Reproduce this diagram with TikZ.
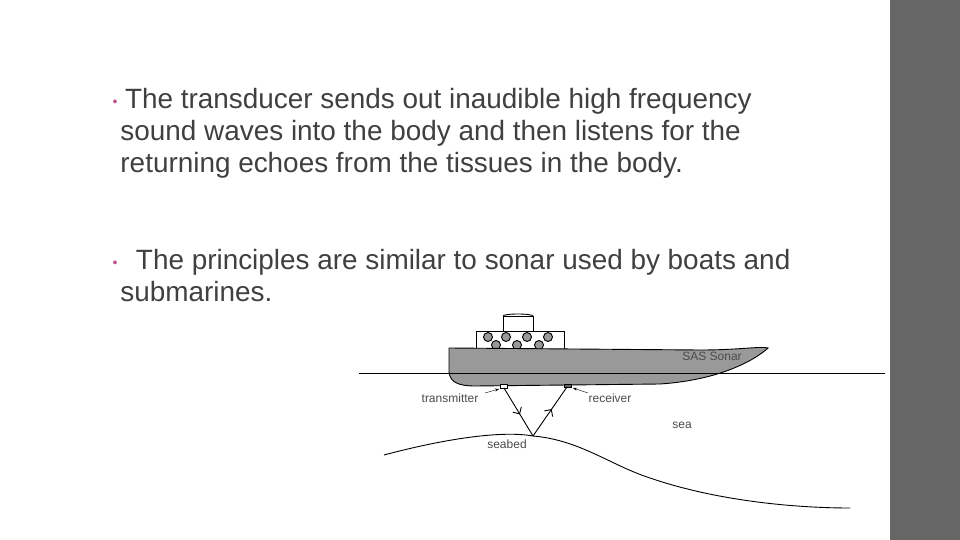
\documentclass[tikz,border=0pt]{standalone}
\usepackage{fontspec}
\setmainfont{Liberation Sans}
\usetikzlibrary{decorations.markings,arrows.meta}
\definecolor{txt}{HTML}{404040}
\definecolor{bul}{HTML}{C0508F}
\begin{document}
\begin{tikzpicture}[x=1pt,y=-1pt,line width=0.9pt,
  body/.style={font=\fontsize{27.9}{32}\selectfont,text=txt,anchor=north west,align=left,inner sep=0},
  lab/.style={font=\fontsize{12}{14}\selectfont,text=black!70,inner sep=0},
  ray/.style={postaction={decorate},decoration={markings,mark=at position 0.55 with {\arrow{Straight Barb[length=5pt]}}}}]
\useasboundingbox (0,0) rectangle (960,540);
\fill[white] (0,0) rectangle (960,540);
\fill[black!60] (890,0) rectangle (960,540);
\node[bul,font=\fontsize{14}{14}\selectfont] (b1) at (115,103) {•};
\node[body] (t1) at (120,88) {\,The transducer sends out inaudible high frequency\\sound waves into the body and then listens for the\\returning echoes from the tissues in the body.};
\node[bul,font=\fontsize{14}{14}\selectfont] (b2) at (115,264) {•};
\node[body] (t2) at (120,249) {\ \ The principles are similar to sonar used by boats and\\submarines.};
% ship
\draw[fill=white] (503,316) rectangle (533,331);
\draw (503,316) arc[x radius=15, y radius=2, start angle=180, end angle=360];
\draw[fill=white] (476,331) rectangle (564,352);
\foreach \x in {488,506,527,548} \draw[fill=black!40] (\x,337) circle (4.5);
\foreach \x in {496,517,539} \draw[fill=black!40] (\x,345) circle (4.5);
\draw[fill=black!40] (449,348) -- (449,372) .. controls (450,382) and (458,386) .. (475,386)
  -- (660,384) .. controls (720,380) and (755,360) .. (768,348)
  .. controls (760,346) and (740,350) .. (700,350) -- (449,348) -- cycle;
\node[lab] (sas) at (712,356) {SAS Sonar};
\draw (359,373) -- (885,373);
\draw[fill=white] (500,384) rectangle (507,388);
\draw[fill=black!60] (564,384) rectangle (571,387);
\coordinate (tx) at (504,388);
\coordinate (rx) at (567,387);
\coordinate (sb) at (533,436);
\draw[ray] (tx) -- (sb);
\draw[ray] (sb) -- (rx);
\node[lab] (tl) at (450,398) {transmitter};
\node[lab] (rl) at (610,398) {receiver};
\node[lab] (sea) at (682,425) {sea};
\node[lab] (sbl) at (507,444) {seabed};
\draw[-{Stealth[length=4pt]},thin] (485,393) -- (499,389);
\draw[-{Stealth[length=4pt]},thin] (588,393) -- (573,388);
\draw (384,455) .. controls (440,440) and (500,430) .. (sb)
  .. controls (580,440) and (610,465) .. (650,478)
  .. controls (720,502) and (800,508) .. (850,508);
\end{tikzpicture}
\end{document}
